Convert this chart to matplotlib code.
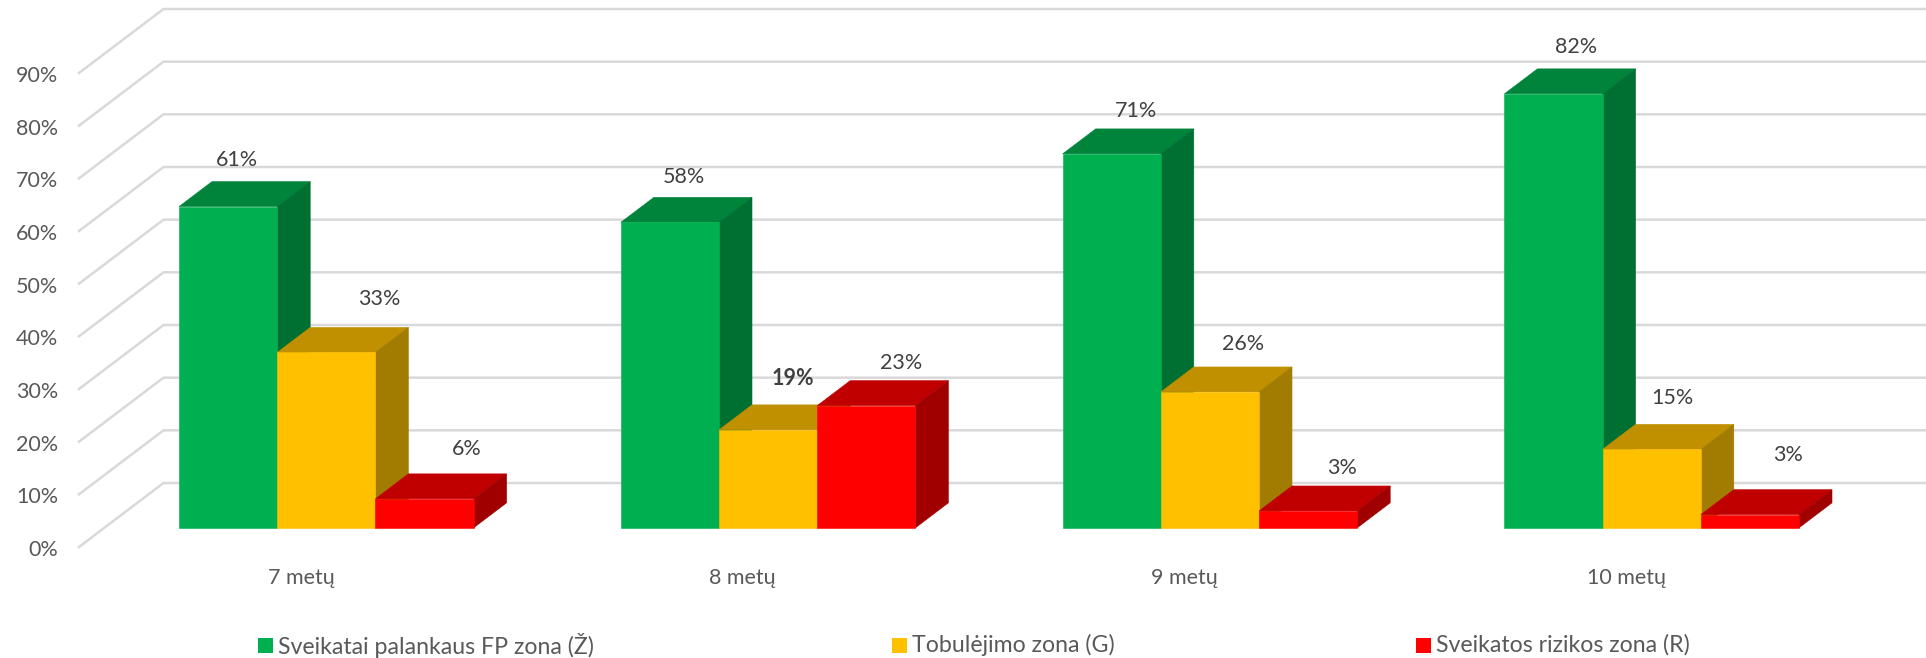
import matplotlib
matplotlib.use('Agg')
import matplotlib.pyplot as plt
from matplotlib.patches import Rectangle
from matplotlib.transforms import ScaledTranslation

plt.rcParams['font.family'] = ['Lato', 'Noto Sans', 'DejaVu Sans']

# Data (labels are rounded in the chart)
categories = ['7 metų', '8 metų', '9 metų', '10 metų']
series_names = ['Sveikatai palankaus FP zona (Ž)', 'Tobulėjimo zona (G)', 'Sveikatos rizikos zona (R)']
green_values = [61.0, 58.0, 71.0, 82.4]
yellow_values = [33.3, 18.6, 25.8, 14.9]
red_values = [5.5, 23.2, 3.2, 2.5]
green_labels = ['61%', '58%', '71%', '82%']
yellow_labels = ['33%', '19%', '26%', '15%']
red_labels = ['6%', '23%', '3%', '3%']
value_ticks = list(range(0, 100, 10))
tick_labels = [f'{v}%' for v in value_ticks]

# front, top, side colours of each series
green_cols = ('#00B050', '#00843C', '#006F32')
yellow_cols = ('#FFC000', '#C09000', '#A27C00')
red_cols = ('#FF0000', '#C00000', '#A00000')
legend_cols = ['#00B050', '#FFC000', '#FF0000']

# label nudges in pixels from the top of each bar's front face (hand placed in the original)
label_nudge = [
    [(9, 47), (53, 53), (42, 50)],
    [(14, 45), (25, 51), (35, 43)],
    [(24, 43), (33, 48), (34, 43)],
    [(23, 47), (21, 51), (38, 60)],
]

W, H = 1926, 658
fig = plt.figure(figsize=(W / 100, H / 100), dpi=100)
ax = fig.add_axes([79 / W, (H - 547) / H, (W - 79) / W, (547 - 73) / H])

# one category = 441.8 px, first category sits at x = 301 px
ax.set_xlim((79 - 301) / 441.8, (W - 301) / 441.8)
ax.set_ylim(0, 90)

# floor depth in data units: wall is 84.5 px right and 64 px up from the front edge
DX = 84.5 / 441.8
DY = 64 / (474 / 90)
BAR_W = 98.2 / 441.8
FRONT = 0.30
BACK = 0.69

# walls: diagonal on the left, then the long line along the back
for v in value_ticks:
    ax.plot([ax.get_xlim()[0], ax.get_xlim()[0] + DX, ax.get_xlim()[1]],
            [v, v + DY, v + DY],
            color='#D9D9D9', lw=1.8, clip_on=False, zorder=1, solid_joinstyle='miter')


def draw_face(xs, ys, col):
    # thin edge in the same colour hides the seams between faces
    ax.fill(xs, ys, facecolor=col, edgecolor=col, lw=0.4, clip_on=False, zorder=3)


def draw_bar(x, val, cols):
    x0 = x + FRONT * DX
    x1 = x0 + BAR_W
    base = FRONT * DY
    top = base + val
    dx = (BACK - FRONT) * DX
    dy = (BACK - FRONT) * DY
    draw_face([x0, x1, x1 + dx, x0 + dx], [top, top, top + dy, top + dy], cols[1])
    draw_face([x1, x1 + dx, x1 + dx, x1], [base, base + dy, top + dy, top], cols[2])
    draw_face([x0, x1, x1, x0], [base, base, top, top], cols[0])
    return (x0 + x1) / 2, top


all_series = [(green_values, green_labels, green_cols),
              (yellow_values, yellow_labels, yellow_cols),
              (red_values, red_labels, red_cols)]
for i in range(len(categories)):
    for j, (vals, labels, cols) in enumerate(all_series):
        x = i + (j - 1.5) * BAR_W
        cx, top = draw_bar(x, vals[i], cols)
        # the 19% label is doubled up in the original so it looks bold
        ax.annotate(labels[i], xy=(cx, top), xytext=label_nudge[i][j], textcoords='offset pixels',
                    ha='center', va='center', fontsize=15.5, color='#404040', zorder=5,
                    fontweight='bold' if (i, j) == (1, 1) else 'normal', annotation_clip=False)

ax.set_xticks(range(len(categories)))
ax.set_xticklabels(categories)
ax.set_yticks(value_ticks)
ax.set_yticklabels(tick_labels)
ax.tick_params(axis='x', length=0, pad=15, labelsize=15.5, labelcolor='#595959')
ax.tick_params(axis='y', length=0, pad=15, labelsize=15.5, labelcolor='#595959')
for lab in ax.get_yticklabels():
    lab.set_transform(lab.get_transform() + ScaledTranslation(0, -0.01, fig.dpi_scale_trans))
for s in ax.spines.values():
    s.set_visible(False)

# legend has uneven gaps so place the items one by one
legend_x = [258, 892, 1416]
for name, col, lx in zip(series_names, legend_cols, legend_x):
    fig.add_artist(Rectangle((lx / W, (H - 652.7) / H), 15 / W, 15 / H, transform=fig.transFigure, color=col, lw=0))
    fig.text((lx + 20) / W, (H - 645) / H, name, ha='left', va='center', fontsize=16.7, color='#595959')

fig.savefig('out.png', dpi=100)
